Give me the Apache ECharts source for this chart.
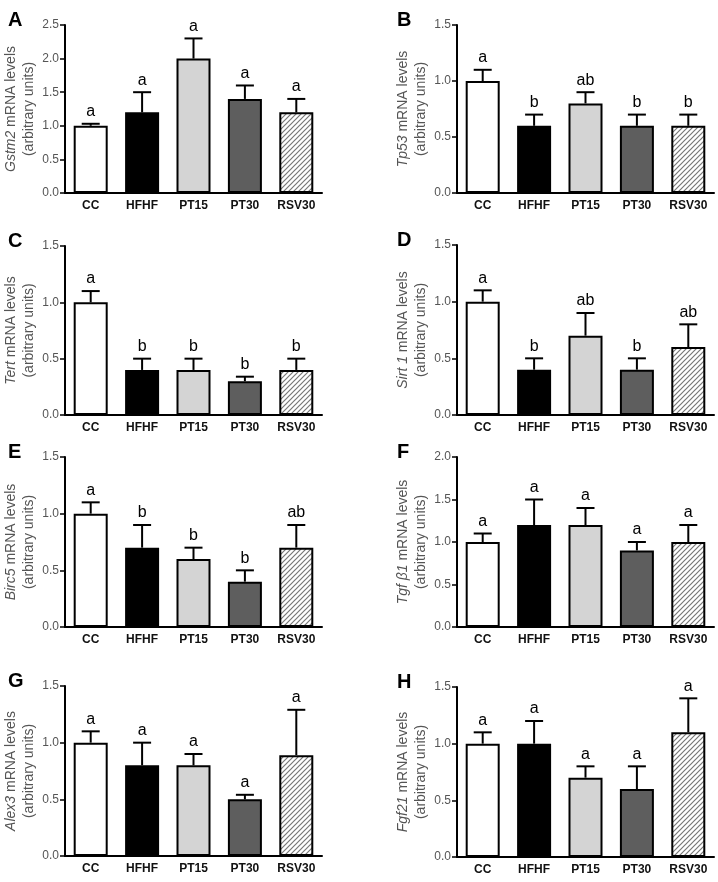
<!DOCTYPE html>
<html>
<head>
<meta charset="utf-8">
<script src="https://cdn.jsdelivr.net/npm/echarts@6/dist/echarts.min.js"></script>
<style>html,body{margin:0;padding:0;background:#fff}#c{width:718px;height:882px}</style>
</head>
<body>
<div id="c"></div>
<script>
const categories = ['CC', 'HFHF', 'PT15', 'PT30', 'RSV30'];

const gstm2Mean = [1.0, 1.2, 2.0, 1.4, 1.2];
const gstm2Err  = [1.03, 1.5, 2.3, 1.6, 1.4];
const gstm2Sig  = ['a', 'a', 'a', 'a', 'a'];

const tp53Mean = [1.0, 0.6, 0.8, 0.6, 0.6];
const tp53Err  = [1.1, 0.7, 0.9, 0.7, 0.7];
const tp53Sig  = ['a', 'b', 'ab', 'b', 'b'];

const tertMean = [1.0, 0.4, 0.4, 0.3, 0.4];
const tertErr  = [1.1, 0.5, 0.5, 0.34, 0.5];
const tertSig  = ['a', 'b', 'b', 'b', 'b'];

const sirt1Mean = [1.0, 0.4, 0.7, 0.4, 0.6];
const sirt1Err  = [1.1, 0.5, 0.9, 0.5, 0.8];
const sirt1Sig  = ['a', 'b', 'ab', 'b', 'ab'];

const birc5Mean = [1.0, 0.7, 0.6, 0.4, 0.7];
const birc5Err  = [1.1, 0.9, 0.7, 0.5, 0.9];
const birc5Sig  = ['a', 'b', 'b', 'b', 'ab'];

const tgfb1Mean = [1.0, 1.2, 1.2, 0.9, 1.0];
const tgfb1Err  = [1.1, 1.5, 1.4, 1.0, 1.2];
const tgfb1Sig  = ['a', 'a', 'a', 'a', 'a'];

const alex3Mean = [1.0, 0.8, 0.8, 0.5, 0.89];
const alex3Err  = [1.1, 1.0, 0.9, 0.54, 1.29];
const alex3Sig  = ['a', 'a', 'a', 'a', 'a'];

const fgf21Mean = [1.0, 1.0, 0.7, 0.6, 1.1];
const fgf21Err  = [1.1, 1.2, 0.8, 0.8, 1.4];
const fgf21Sig  = ['a', 'a', 'a', 'a', 'a'];

const yMaxes = [2.5, 1.5, 1.5, 1.5, 1.5, 2.0, 1.5, 1.5];

// layout (pixels)
const panels = [
  {letter: 'A', gene: 'Gstm2', mean: gstm2Mean, err: gstm2Err, sig: gstm2Sig, left: 65,  top: 25,  height: 168},
  {letter: 'B', gene: 'Tp53',  mean: tp53Mean,  err: tp53Err,  sig: tp53Sig,  left: 457, top: 25,  height: 168},
  {letter: 'C', gene: 'Tert',  mean: tertMean,  err: tertErr,  sig: tertSig,  left: 65,  top: 246, height: 169},
  {letter: 'D', gene: 'Sirt 1', mean: sirt1Mean, err: sirt1Err, sig: sirt1Sig, left: 457, top: 245, height: 170},
  {letter: 'E', gene: 'Birc5', mean: birc5Mean, err: birc5Err, sig: birc5Sig, left: 65,  top: 457, height: 170},
  {letter: 'F', gene: 'Tgf β1', mean: tgfb1Mean, err: tgfb1Err, sig: tgfb1Sig, left: 457, top: 457, height: 170},
  {letter: 'G', gene: 'Alex3', mean: alex3Mean, err: alex3Err, sig: alex3Sig, left: 65,  top: 686, height: 170},
  {letter: 'H', gene: 'Fgf21', mean: fgf21Mean, err: fgf21Err, sig: fgf21Sig, left: 457, top: 687, height: 170}
];
const gridWidth = 257;

// hatch pattern
function makeHatch() {
  const s = 5;
  const cv = document.createElement('canvas');
  cv.width = s; cv.height = s;
  const ctx = cv.getContext('2d');
  ctx.fillStyle = '#ffffff';
  ctx.fillRect(0, 0, s, s);
  ctx.strokeStyle = '#777777';
  ctx.lineWidth = 1.2;
  ctx.beginPath();
  ctx.moveTo(-1, s + 1); ctx.lineTo(s + 1, -1);
  ctx.moveTo(-1, 1); ctx.lineTo(1, -1);
  ctx.moveTo(s - 1, s + 1); ctx.lineTo(s + 1, s - 1);
  ctx.stroke();
  return cv;
}
const hatch = makeHatch();
const barColors = ['#ffffff', '#000000', '#d4d4d4', '#5e5e5e', {image: hatch, repeat: 'repeat'}];

const grids = [], xAxes = [], yAxes = [], series = [], graphics = [];
const FONT = 'Arial, "Liberation Sans", sans-serif';

panels.forEach((p, i) => {
  grids.push({left: p.left, top: p.top, width: gridWidth, height: p.height, containLabel: false});
  xAxes.push({
    type: 'category', gridIndex: i, data: categories,
    axisLine: {lineStyle: {color: '#000', width: 2}},
    axisTick: {show: false},
    axisLabel: {color: '#111', fontWeight: 'bold', fontSize: 12, fontFamily: FONT, margin: 7, interval: 0}
  });
  yAxes.push({
    type: 'value', gridIndex: i, min: 0, max: yMaxes[i], interval: 0.5,
    splitLine: {show: false},
    axisLine: {show: true, lineStyle: {color: '#000', width: 2}},
    axisTick: {show: true, length: 5, lineStyle: {color: '#000', width: 1.5}},
    axisLabel: {color: '#555', fontSize: 12, fontFamily: FONT, margin: 6, formatter: v => v.toFixed(1)},
    name: '{i|' + p.gene + '} mRNA levels\n(arbitrary units)',
    nameLocation: 'middle', nameRotate: 90, nameGap: 23,
    nameTextStyle: {
      color: '#555', fontSize: 14, fontFamily: FONT, lineHeight: 18,
      rich: {i: {fontStyle: 'italic', color: '#555', fontSize: 14, fontFamily: FONT, lineHeight: 18}}
    }
  });
  series.push({
    type: 'bar', xAxisIndex: i, yAxisIndex: i, barWidth: 34,
    data: p.mean.map((v, k) => ({
      value: v,
      itemStyle: {color: barColors[k], borderColor: '#000', borderWidth: 2}
    })),
    silent: true, animation: false
  });
  const sig = p.sig;
  series.push({
    type: 'custom', xAxisIndex: i, yAxisIndex: i, clip: false, silent: true, animation: false, z: 5,
    data: p.mean.map((v, k) => [k, v, p.err[k]]),
    renderItem: function (params, api) {
      const k = api.value(0);
      const a = api.coord([k, api.value(1)]);
      const b = api.coord([k, api.value(2)]);
      const cap = 9;
      return {
        type: 'group',
        children: [
          {type: 'line', shape: {x1: a[0], y1: a[1], x2: b[0], y2: b[1]}, style: {stroke: '#000', lineWidth: 2}},
          {type: 'line', shape: {x1: b[0] - cap, y1: b[1], x2: b[0] + cap, y2: b[1]}, style: {stroke: '#000', lineWidth: 2}},
          {type: 'text', x: b[0], y: b[1] - 4, style: {
            text: sig[params.dataIndex], fill: '#000', fontSize: 16, fontFamily: FONT,
            align: 'center', verticalAlign: 'bottom'
          }}
        ]
      };
    }
  });
  graphics.push({
    type: 'text', left: p.left === 65 ? 8 : 397, top: p.top - 15,
    style: {text: p.letter, fill: '#000', fontSize: 20, fontWeight: 'bold', fontFamily: FONT}
  });
});

const chart = echarts.init(document.getElementById('c'), null, {renderer: 'canvas'});
chart.setOption({
  backgroundColor: '#fff',
  animation: false,
  grid: grids, xAxis: xAxes, yAxis: yAxes, series: series, graphic: graphics
});
</script>
</body>
</html>
